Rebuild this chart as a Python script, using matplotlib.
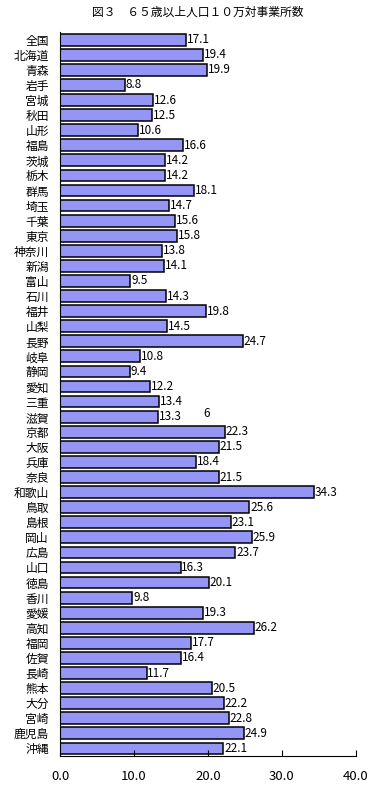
import matplotlib
matplotlib.use('Agg')
import matplotlib.pyplot as plt

plt.rcParams['font.family'] = ['Noto Sans CJK JP', 'DejaVu Sans']

# prefectures, top to bottom
prefs = ['全国', '北海道', '青森', '岩手', '宮城', '秋田', '山形', '福島',
         '茨城', '栃木', '群馬', '埼玉', '千葉', '東京', '神奈川', '新潟',
         '富山', '石川', '福井', '山梨', '長野', '岐阜', '静岡', '愛知',
         '三重', '滋賀', '京都', '大阪', '兵庫', '奈良', '和歌山', '鳥取',
         '島根', '岡山', '広島', '山口', '徳島', '香川', '愛媛', '高知',
         '福岡', '佐賀', '長崎', '熊本', '大分', '宮崎', '鹿児島', '沖縄']
values = [17.1, 19.4, 19.9, 8.8, 12.6, 12.5, 10.6, 16.6,
          14.2, 14.2, 18.1, 14.7, 15.6, 15.8, 13.8, 14.1,
          9.5, 14.3, 19.8, 14.5, 24.7, 10.8, 9.4, 12.2,
          13.4, 13.3, 22.3, 21.5, 18.4, 21.5, 34.3, 25.6,
          23.1, 25.9, 23.7, 16.3, 20.1, 9.8, 19.3, 26.2,
          17.7, 16.4, 11.7, 20.5, 22.2, 22.8, 24.9, 22.1]
xticks = [0, 10, 20, 30, 40]

fig = plt.figure(figsize=(3.81, 7.85), dpi=100)
ax = fig.add_axes([0.1575, 0.037, 0.7765, 0.922])

ypos = list(range(len(prefs)))
ax.barh(ypos, values, height=0.78, color='#9595F5', edgecolor='black', linewidth=1.1)
for y, v in zip(ypos, values):
    ax.text(v + 0.1, y, f'{v:.1f}', va='center', ha='left', fontsize=8.5)

# stray label in the original
ax.text(19.4, 24.8, '6', fontsize=8.5, va='center')

ax.set_ylim(len(prefs) - 0.5, -0.5)
ax.set_xlim(0, 40)
ax.set_yticks(ypos)
ax.set_yticklabels(prefs, fontsize=8.5)
ax.tick_params(axis='y', length=0, pad=8)
ax.set_xticks(xticks)
ax.set_xticklabels([f'{t:.1f}' for t in xticks], fontsize=9.5)
ax.tick_params(axis='x', direction='in', length=4, pad=10)
ax.spines['top'].set_visible(False)
ax.spines['right'].set_visible(False)

fig.text(0.52, 0.985, '図３　６５歳以上人口１０万対事業所数', ha='center', va='center', fontsize=8.5)

fig.savefig('out.png', dpi=100)
